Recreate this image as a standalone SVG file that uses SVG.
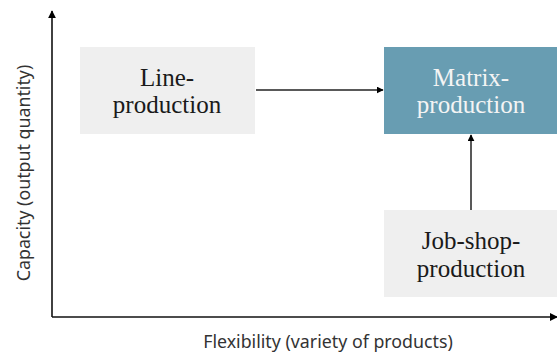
<svg xmlns="http://www.w3.org/2000/svg" width="557" height="352" viewBox="0 0 557 352">
  <style>
    .box { fill: #efefef; }
    .box-hi { fill: #689db2; }
    .axis { stroke: #111; stroke-width: 1.6; fill: none; }
    .edge { stroke: #222; stroke-width: 1.5; fill: none; }
    .label { font-family: "Liberation Serif", serif; font-size: 25px; text-anchor: middle; fill: #1a1a1a; }
    .label-hi { fill: #f4f4f4; }
    .axis-title { font-family: "Noto Sans", sans-serif; font-size: 17.8px; text-anchor: middle; fill: #333; }
  </style>
  <defs>
    <marker id="arrow" viewBox="0 0 10 10" refX="9" refY="5" markerWidth="7" markerHeight="7" markerUnits="userSpaceOnUse" orient="auto">
      <path d="M0,0 L10,5 L0,10 z" fill="#000"/>
    </marker>
    <marker id="arrow-axis" viewBox="0 0 10 10" refX="9" refY="5" markerWidth="8" markerHeight="8" markerUnits="userSpaceOnUse" orient="auto">
      <path d="M0,0 L10,5 L0,10 z" fill="#000"/>
    </marker>
  </defs>

  <!-- axes -->
  <g id="axes">
    <line class="axis" x1="52" y1="317" x2="52" y2="11" marker-end="url(#arrow-axis)"/>
    <line class="axis" x1="52" y1="317" x2="557" y2="317" marker-end="url(#arrow-axis)"/>
    <text class="axis-title" x="328" y="348">Flexibility (variety of products)</text>
    <text class="axis-title" transform="translate(30,173) rotate(-90)">Capacity (output quantity)</text>
  </g>

  <!-- nodes -->
  <g id="line-production">
    <rect class="box" x="80" y="47" width="175" height="87"/>
    <text class="label" x="167" y="86">Line-</text>
    <text class="label" x="167" y="113">production</text>
  </g>
  <g id="matrix-production">
    <rect class="box-hi" x="384" y="47" width="173" height="87"/>
    <text class="label label-hi" x="471" y="86">Matrix-</text>
    <text class="label label-hi" x="471" y="113">production</text>
  </g>
  <g id="job-shop-production">
    <rect class="box" x="384" y="210" width="173" height="87"/>
    <text class="label" x="471" y="249">Job-shop-</text>
    <text class="label" x="471" y="277">production</text>
  </g>

  <!-- connectors -->
  <g id="connectors">
    <line class="edge" x1="256" y1="90" x2="383" y2="90" marker-end="url(#arrow)"/>
    <line class="edge" x1="471" y1="210" x2="471" y2="135" marker-end="url(#arrow)"/>
  </g>
</svg>
